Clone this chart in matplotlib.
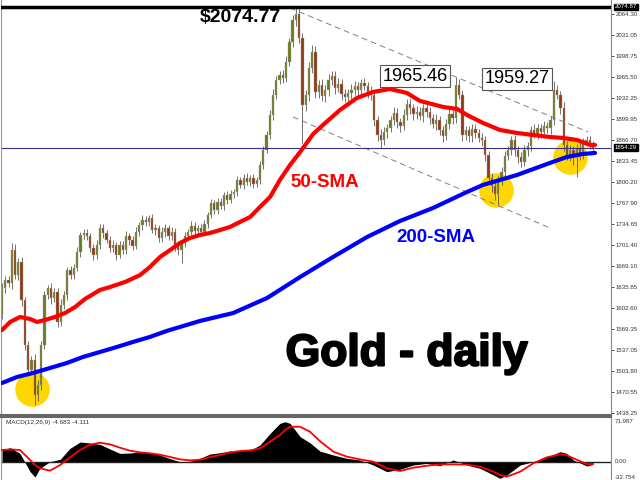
import matplotlib
matplotlib.use("Agg")
import matplotlib.pyplot as plt
import matplotlib.transforms as mtransforms
import matplotlib.patheffects as pe
import numpy as np

# daily closes (oldest first)
closes = [
    1634.3, 1646.8, 1642.1, 1693.8, 1654.6, 1675.0, 1615.4, 1544.9, 1505.7, 1521.4,
    1466.5, 1482.2, 1544.9, 1623.3, 1634.3, 1618.6, 1628.0, 1581.0, 1607.6, 1623.3,
    1662.5, 1654.6, 1665.6, 1690.7, 1717.4, 1720.5, 1715.8, 1697.0, 1686.0, 1701.7,
    1728.3, 1720.5, 1709.5, 1697.0, 1701.7, 1686.0, 1701.7, 1693.8, 1715.8, 1709.5,
    1700.1, 1722.1, 1733.0, 1740.9, 1737.8, 1744.0, 1725.2, 1728.3, 1712.7, 1722.1,
    1728.3, 1715.8, 1722.1, 1701.7, 1693.8, 1704.8, 1715.8, 1722.1, 1731.5, 1723.6,
    1728.3, 1722.1, 1734.6, 1748.7, 1767.5, 1756.6, 1769.1, 1762.8, 1780.1, 1772.3,
    1781.6, 1784.8, 1803.6, 1795.8, 1806.8, 1800.5, 1806.8, 1797.3, 1803.6, 1827.1,
    1850.6, 1874.2, 1905.5, 1936.9, 1960.4, 1968.2, 1963.5, 1988.6, 2020.0, 2054.5,
    2063.9, 2026.3, 1921.2, 1936.9, 1979.2, 2004.3, 1941.6, 1952.6, 1935.3, 1944.7,
    1960.4, 1966.7, 1947.9, 1954.1, 1938.5, 1933.8, 1940.0, 1944.7, 1951.0, 1944.7,
    1955.7, 1951.0, 1941.6, 1936.9, 1897.7, 1874.2, 1866.3, 1878.9, 1885.1, 1897.7,
    1908.7, 1894.5, 1888.3, 1905.5, 1922.8, 1916.5, 1907.1, 1910.2, 1904.0, 1916.5,
    1910.2, 1900.8, 1891.4, 1897.7, 1882.0, 1872.6, 1891.4, 1907.1, 1900.8, 1952.6,
    1936.9, 1874.2, 1882.0, 1872.6, 1883.6, 1877.3, 1869.5, 1866.3, 1842.8, 1806.8,
    1794.2, 1781.6, 1803.6, 1816.2, 1841.3, 1850.6, 1866.3, 1850.6, 1839.7, 1831.8,
    1850.6, 1856.9, 1882.0, 1875.7, 1885.1, 1878.9, 1888.3, 1885.1, 1897.7, 1944.7,
    1936.9, 1916.5, 1858.5, 1842.8, 1850.6, 1839.7, 1853.8, 1844.4, 1863.2, 1866.3,
    1860.1, 1854.3,
]
first_open = 1592.0

# wick lengths above / below the body
upper_wick = [
    8, 6, 7, 11, 9, 6, 8, 5, 7, 6,
    9, 8, 6, 7, 5, 8, 6, 7, 9, 6,
    5, 7, 6, 8, 5, 6, 7, 5, 6, 8,
    6, 7, 5, 6, 8, 5, 7, 6, 8, 5,
    6, 7, 5, 8, 6, 5, 7, 6, 5, 8,
    6, 5, 7, 6, 5, 4, 6, 5, 7, 6,
    5, 6, 7, 5, 6, 5, 7, 6, 5, 6,
    7, 5, 6, 5, 6, 7, 5, 6, 5, 6,
    7, 6, 8, 9, 7, 6, 8, 9, 7, 8,
    10.9, 9, 7, 8, 10, 11, 9, 7, 10, 8,
    9, 7, 8, 10, 8, 7, 6, 9, 8, 7,
    6, 8, 7, 9, 8, 7, 9, 8, 6, 7,
    9, 8, 7, 10, 8, 7, 6, 9, 8, 7,
    6, 8, 7, 9, 6, 7, 8, 9, 7, 12.9,
    9, 8, 7, 6, 8, 7, 6, 8, 7, 6,
    7, 8, 6, 7, 8, 6, 7, 8, 6, 7,
    8, 6, 7, 9, 6, 7, 8, 6, 7, 14.6,
    8, 7, 9, 6, 8, 7, 6, 9, 7, 6,
    7, 5,
]
lower_wick = [
    7, 8, 6, 9, 7, 8, 10, 8, 9, 7,
    16, 9, 8, 6, 7, 9, 6, 8, 7, 6,
    8, 6, 7, 5, 8, 6, 7, 6, 8, 7,
    6, 8, 5, 7, 6, 8, 5, 7, 6, 8,
    7, 5, 6, 8, 7, 6, 5, 8, 7, 6,
    8, 7, 6, 9, 8, 20, 6, 7, 5, 6,
    7, 5, 6, 7, 5, 6, 7, 5, 6, 7,
    5, 6, 7, 5, 6, 5, 7, 6, 5, 6,
    6, 5, 7, 8, 6, 7, 8, 6, 7, 8,
    9, 8, 60, 10, 9, 8, 10, 9, 8, 10,
    9, 8, 10, 7, 9, 8, 7, 10, 8, 9,
    8, 7, 9, 8, 10, 9, 12, 8, 9, 7,
    8, 10, 9, 7, 8, 9, 10, 8, 7, 9,
    8, 9, 7, 10, 8, 9, 7, 8, 9, 8,
    7, 9, 8, 10, 9, 8, 7, 9, 10, 8,
    9, 10, 17, 8, 9, 7, 8, 9, 10, 8,
    7, 9, 8, 7, 8, 9, 7, 8, 9, 8,
    7, 9, 10, 8, 9, 12, 32, 9, 8, 7,
    8, 6,
]

# moving averages (candle index, price)
sma50_idx = [0, 2.5, 5.5, 8.6, 10.7, 13.2, 16.2, 19.3, 22.4, 25.4, 30, 33.1, 37.7,
             42.3, 45.3, 48.4, 51.5, 54.5, 57.6, 60.6, 63.7, 66.8, 69.8, 72.9, 76,
             79, 82.1, 85.1, 88.2, 91.3, 95.3, 98.3, 103.5, 108.7, 113.6, 118.8,
             124, 128, 135.1, 139.4, 142.4, 147.3, 152.5, 157.7, 162.6, 167.8,
             171.8, 176.1, 180.1, 181.6]
sma50 = [1568.4, 1581.0, 1588.8, 1585.6, 1581.0, 1584.1, 1588.8, 1595.0, 1604.5,
         1617.0, 1631.1, 1635.8, 1643.7, 1654.6, 1667.2, 1682.9, 1693.8, 1704.8,
         1712.7, 1717.4, 1720.5, 1725.2, 1729.9, 1737.8, 1745.6, 1761.3, 1777.0,
         1803.6, 1827.1, 1847.5, 1875.7, 1889.9, 1913.4, 1932.2, 1941.6, 1946.3,
         1940.0, 1927.5, 1918.1, 1914.9, 1905.5, 1893.0, 1882.0, 1877.3, 1874.2,
         1871.0, 1869.5, 1866.3, 1858.5, 1858.5]
sma200_idx = [0, 4.6, 9.5, 14.7, 19.9, 24.8, 30, 35.2, 40.1, 45.3, 50.5, 60.6, 70.8,
              81.2, 91.3, 101.4, 111.8, 121.9, 132, 142.4, 147.3, 157.7, 167.8,
              173, 177.9, 181.6]
sma200 = [1485.3, 1494.7, 1501.0, 1508.8, 1516.7, 1526.1, 1533.9, 1541.8, 1549.6,
          1557.5, 1567.0, 1582.5, 1595.0, 1618.6, 1651.5, 1682.9, 1714.2, 1739.3,
          1759.7, 1784.8, 1795.8, 1811.4, 1830.3, 1839.7, 1844.4, 1846.0]

# MACD(12,26,9)
macd_idx = [0, 2.5, 5.5, 8.6, 10.1, 11.6, 14.7, 17.8, 20.8, 23.9,
            27, 30, 33.1, 36.1, 39.2, 42.3, 45.3, 48.4, 51.5, 54.5,
            57.6, 60.6, 63.7, 66.8, 69.8, 72.9, 76, 79, 82.1, 85.1,
            86.7, 88.2, 91.3, 94.3, 97.4, 101.5, 105.6, 109.6, 113.7, 117.8,
            121.9, 126, 130.1, 134.1, 138.2, 142.3, 146.4, 150.5, 152.5, 154.6,
            158.7, 162.7, 166.8, 170.9, 172.9, 175, 179.1, 181]
macd_main = [20, 24, 14.3, -17.1, -26.3, -11.4, 0, 4, 22.8, 33.7,
             32, 29.7, 21.7, 14.3, 14.8, 17.1, 16, 11.4, 5.1, 0,
             0.6, 5.7, 13.1, 15.4, 18.3, 18.8, 19.4, 28.6, 48.5, 65.7,
             68.5, 65.7, 42.8, 32.5, 18, 11.4, 5.7, 2.9, -5.7, -17.1,
             -13.1, -5.7, -2.9, -6.9, 2.9, -5.7, -11.4, -22.8, -28.6, -22.8,
             -5.7, 0, 7.4, 17.1, 14.3, 2.9, -7.4, -4.683]
macd_signal = [20, 21.1, 20, 2.9, -5.7, -11.4, -15.4, -5.7, 7.4, 20,
               29.1, 32.5, 29.7, 24, 18.8, 16, 14.3, 12, 8, 4,
               2.3, 3.4, 8, 11.4, 16, 18.3, 19.4, 22.8, 34.3, 45.7,
               54.2, 59.9, 59.9, 51.4, 35, 17.1, 8.6, 4, 0, -11.4,
               -16, -10.3, -6.9, -4.6, -4.6, -5.1, -8.6, -17.1, -22.8, -25.7,
               -17.1, -2.9, 7.4, 12.6, 11.4, 5.7, -4, -4.111]

price_ticks = [2064.30, 2031.05, 1998.75, 1965.50, 1932.25, 1899.95, 1866.70,
               1833.45, 1800.20, 1767.90, 1734.65, 1701.40, 1669.10, 1635.85,
               1602.60, 1569.35, 1537.05, 1503.80, 1470.55, 1438.25]
top_price = 2074.87
last_price = 1854.29

# swing points marked on the chart
peak_label = "$2074.77"
high2_label = "1965.46"
high3_label = "1959.27"
circle_idx = [9.2, 151.3, 174]
circle_price = [1475.9, 1787.9, 1839.7]
channel_top = ([88.2, 179.5], [2073.3, 1878.9])
channel_bot = ([89.1, 167.8], [1902.4, 1728.3])

W, H = 640, 480
fig = plt.figure(figsize=(6.4, 4.8), dpi=100)
ax = fig.add_axes([1 / W, 1 - 415 / H, 610 / W, 415 / H])
mx = fig.add_axes([1 / W, 0, 610 / W, 63 / H])

n = len(closes)
idx = np.arange(n)
c = np.array(closes)
o = np.array([first_open] + closes[:-1])
hi = np.maximum(o, c) + np.array(upper_wick)
lo = np.minimum(o, c) - np.array(lower_wick)
up = c >= o

# yellow highlight circles
ax.scatter(circle_idx, circle_price, s=620, color="#ffd700", zorder=1, linewidths=0)

# candles
ax.vlines(idx, lo, hi, color="#5a5a5a", linewidth=0.6, zorder=2)
body = np.maximum(np.abs(c - o), 1.0)
ax.bar(idx[up], body[up], bottom=np.minimum(o, c)[up], width=0.7,
       color="#6b7c1c", edgecolor="#a0a0a0", linewidth=0.3, zorder=2)
ax.bar(idx[~up], body[~up], bottom=np.minimum(o, c)[~up], width=0.7,
       color="#8f3a12", edgecolor="#a0a0a0", linewidth=0.3, zorder=2)

# moving averages
ax.plot(sma50_idx, sma50, color="#ff0000", linewidth=3, zorder=3, solid_capstyle="round")
ax.plot(sma200_idx, sma200, color="#0000ff", linewidth=3, zorder=3, solid_capstyle="round")

# channel
ax.plot(*channel_top, color="#808080", linestyle=(0, (6, 4)), linewidth=0.7, zorder=2)
ax.plot(*channel_bot, color="#808080", linestyle=(0, (6, 4)), linewidth=0.7, zorder=2)

ax.axhline(top_price, color="black", linewidth=2.5, zorder=4)
ax.axhline(last_price, color="#32328c", linewidth=0.8, zorder=2)

ax.set_xlim(-0.31, 186.5)
ax.set_ylim(1435.1, 2085.8)

ax.text(72.9, 2059.0, peak_label, fontsize=14, fontweight="bold", ha="center",
        va="center", zorder=5, family="Liberation Sans")
box = dict(boxstyle="square,pad=0.12", fc="white", ec="#555555", lw=0.8)
ax.text(126.5, 1966.5, high2_label, fontsize=13, ha="center", va="center",
        bbox=box, zorder=5, family="Liberation Sans")
ax.text(157.7, 1962.0, high3_label, fontsize=13, ha="center", va="center",
        bbox=box, zorder=5, family="Liberation Sans")
ax.text(98.9, 1798.9, "50-SMA", color="#ff0000", fontsize=13.5, fontweight="bold",
        ha="center", va="center", zorder=5, family="Liberation Sans")
ax.text(132.9, 1712.7, "200-SMA", color="#0000ff", fontsize=13.5, fontweight="bold",
        ha="center", va="center", zorder=5, family="Liberation Sans")
ax.text(124, 1530.8, "Gold - daily", fontsize=32, fontweight="bold", ha="center",
        va="center", zorder=5, family="Liberation Sans",
        path_effects=[pe.withStroke(linewidth=1.5, foreground="black")])

# right price scale
ax.yaxis.tick_right()
ax.set_yticks(price_ticks)
ax.set_yticklabels([f"{v:.2f}" for v in price_ticks], family="Liberation Sans")
ax.tick_params(axis="y", direction="out", length=2.5, width=0.6, colors="#333333",
               labelsize=4.4, pad=1)
ax.set_xticks([])
trans = mtransforms.blended_transform_factory(ax.transAxes, ax.transData)
for val in (top_price, last_price):
    ax.text(1.0065, val, f"{val:.2f}", transform=trans, fontsize=4.4, color="white",
            va="center", ha="left", family="Liberation Sans", clip_on=False,
            bbox=dict(boxstyle="square,pad=0.12", fc="black", ec="black"))

ax.spines["top"].set_visible(False)
ax.spines["left"].set_color("#999999")
ax.spines["left"].set_linewidth(0.8)
ax.spines["right"].set_color("#888888")
ax.spines["bottom"].set_color("#666666")
ax.spines["bottom"].set_linewidth(1.5)

# MACD panel
mx.fill_between(macd_idx, 0, macd_main, color="black", linewidth=0, zorder=2)
mx.plot(macd_idx, macd_signal, color="#ff0000", linewidth=1.3, zorder=3)
mx.axhline(0, color="#222222", linewidth=1, zorder=2)
mx.set_xlim(-0.31, 186.5)
mx.set_ylim(-31.4, 76.6)
mx.set_xticks([])
mx.set_yticks([])
mx.spines["bottom"].set_visible(False)
mx.spines["top"].set_color("#666666")
mx.spines["top"].set_linewidth(1.5)
mx.spines["left"].set_color("#999999")
mx.spines["left"].set_linewidth(0.8)
mx.spines["right"].set_color("#888888")
mx.text(0.008, 0.95, "MACD(12,26,9) -4.683 -4.111", transform=mx.transAxes,
        fontsize=4.6, color="#333333", va="top", family="Liberation Sans")
mtrans = mtransforms.blended_transform_factory(mx.transAxes, mx.transData)
mx.text(1.0065, 0.97, "71.987", transform=mx.transAxes, fontsize=4.4, color="#333333",
        va="top", family="Liberation Sans", clip_on=False)
mx.text(1.0065, 0, "0.00", transform=mtrans, fontsize=4.4, color="#333333",
        va="center", family="Liberation Sans", clip_on=False)
mx.text(1.0065, 0.0, "-32.754", transform=mx.transAxes, fontsize=4.4, color="#333333",
        va="bottom", family="Liberation Sans", clip_on=False)

fig.savefig("out.png", dpi=100)
